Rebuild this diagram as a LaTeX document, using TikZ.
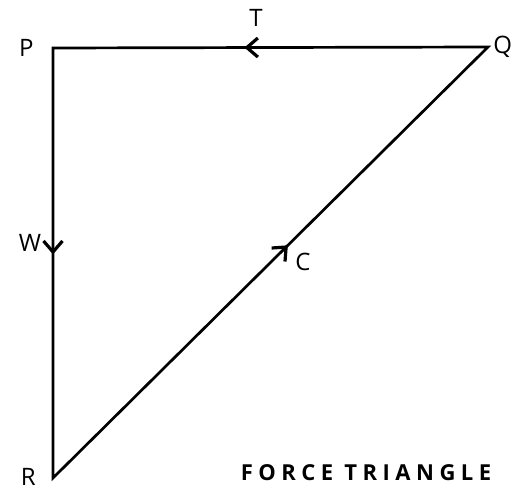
\documentclass[tikz,border=0pt]{standalone}
\usepackage{fontspec}
\setmainfont{Open Sans}
\usetikzlibrary{arrows.meta}
\usetikzlibrary{positioning}
\usetikzlibrary{decorations.markings}

\begin{document}
\begin{tikzpicture}[
		x=1pt,
		y=-1pt,
		line width=2.7pt,
		main node/.style={font=\fontsize{24}{24}\selectfont, inner sep=0pt},
		title node/.style={font=\fontsize{22}{22}\selectfont\bfseries\addfontfeatures{LetterSpace=25}, inner sep=0pt},
		mid arrow/.style={
			postaction={decorate},
			decoration={markings, mark=at position #1 with {\arrow{Straight Barb[length=11pt,width=19pt,line width=3.2pt]}}}
		}
		]
		
		\useasboundingbox (0,0) rectangle (517,492);
		
		\coordinate (P) at (53,48);
		\coordinate (Q) at (488,47);
		\coordinate (R) at (53,478);
		
		\node[main node] (lP) [left=18pt of P] {P};
		\node[main node] (lQ) [right=4pt of Q] {Q};
		\node[main node] (lR) [left=16pt of R, yshift=1pt] {R};
		\node[main node] (lT) at (256,18) {T};
		\node[main node] (lW) at (30,243) {W};
		\node[main node] (lC) at (303,262) {C};
		\node[title node] (title) at (366,473) {FORCE TRIANGLE};
		
		\draw[line join=miter] (Q) -- (P) -- (R) -- cycle;
		\path[mid arrow=0.56] (Q) -- (P);
		\path[mid arrow=0.48] (P) -- (R);
		\path[mid arrow=0.54] (R) -- (Q);
	\end{tikzpicture}
\end{document}
